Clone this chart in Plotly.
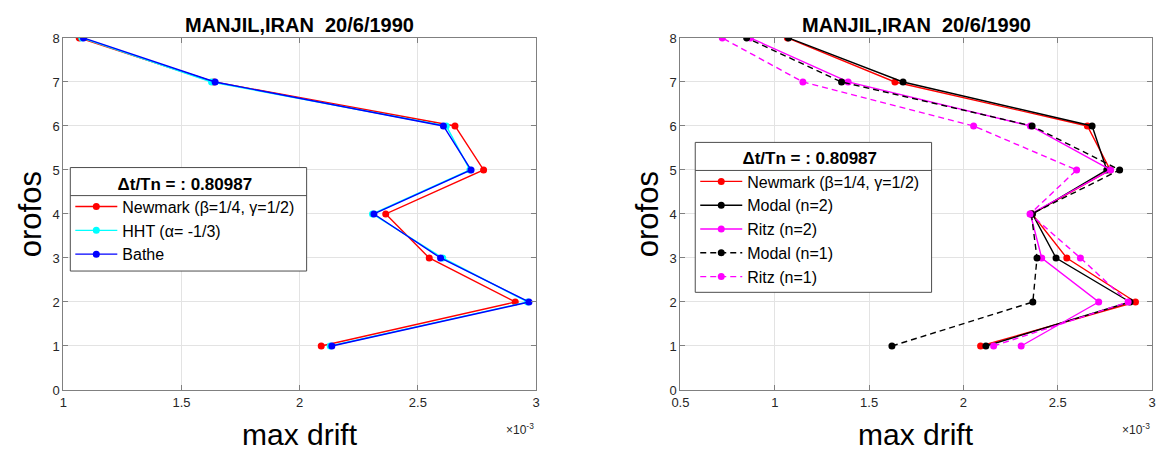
import plotly.graph_objects as go

# Story levels (orofos)
floors = [1, 2, 3, 4, 5, 6, 7, 8]

# ---- Left panel (max drift, x 10^-3) ----
newmark = [2.091, 2.912, 2.548, 2.364, 2.778, 2.657, 1.637, 1.067]
hht = [2.129, 2.964, 2.605, 2.308, 2.720, 2.620, 1.627, 1.078]
bathe = [2.136, 2.970, 2.596, 2.314, 2.725, 2.608, 1.642, 1.085]

# ---- Right panel (max drift, x 10^-3) ----
modal_n2 = [2.119, 2.883, 2.491, 2.366, 2.760, 2.682, 1.680, 1.073]
ritz_n2 = [2.306, 2.717, 2.415, 2.355, 2.780, 2.355, 1.389, 0.871]
modal_n1 = [1.621, 2.368, 2.390, 2.360, 2.828, 2.364, 1.354, 0.851]
ritz_n1 = [2.160, 2.873, 2.620, 2.353, 2.600, 2.054, 1.149, 0.722]

title_text = "MANJIL,IRAN  20/6/1990"
legend_title = "Δt/Tn = : 0.80987"
x_ticks_left = [1, 1.5, 2, 2.5, 3]
x_ticks_right = [0.5, 1, 1.5, 2, 2.5, 3]
y_ticks = [0, 1, 2, 3, 4, 5, 6, 7, 8]

FONT = "Liberation Sans, Arial, sans-serif"
W, H = 1164, 457

def px_x(p):
    return p / W

def px_y(p):
    return 1 - p / H

fig = go.Figure()

left_series = [
    ("Newmark (β=1/4, γ=1/2)", newmark, "#ff0000", "solid"),
    ("HHT (α= -1/3)", hht, "#00ffff", "solid"),
    ("Bathe", bathe, "#0000ff", "solid"),
]
for name, vals, col, dash in left_series:
    fig.add_trace(go.Scatter(
        x=vals, y=floors, mode="lines+markers", name=name,
        line=dict(color=col, width=1.4, dash=dash),
        marker=dict(color=col, size=7, symbol="circle"),
        xaxis="x", yaxis="y", legend="legend",
    ))

right_series = [
    ("Newmark (β=1/4, γ=1/2)", newmark, "#ff0000", "solid"),
    ("Modal (n=2)", modal_n2, "#000000", "solid"),
    ("Ritz (n=2)", ritz_n2, "#ff00ff", "solid"),
    ("Modal (n=1)", modal_n1, "#000000", "6px,4px"),
    ("Ritz (n=1)", ritz_n1, "#ff00ff", "6px,4px"),
]
for name, vals, col, dash in right_series:
    fig.add_trace(go.Scatter(
        x=vals, y=floors, mode="lines+markers", name=name,
        line=dict(color=col, width=1.4, dash=dash),
        marker=dict(color=col, size=7, symbol="circle"),
        xaxis="x2", yaxis="y2", legend="legend2",
    ))

axis_common = dict(
    showline=True, linecolor="#808080", linewidth=1, mirror="ticks",
    ticks="inside", ticklen=5, tickcolor="#808080", tickwidth=1,
    showgrid=True, gridcolor="#e3e3e3", gridwidth=1, zeroline=False,
    tickfont=dict(family=FONT, size=13, color="#262626"),
)

ydom = [px_y(396), px_y(32)]

LEG_FONT = 16
legend_common = dict(
    xanchor="left", yanchor="top",
    bgcolor="rgba(0,0,0,0)", borderwidth=0,
    font=dict(family=FONT, size=LEG_FONT, color="#000000"),
    title=dict(text="<b>" + legend_title + "</b>", side="top center",
               font=dict(family=FONT, size=17, color="#000000")),
    tracegroupgap=0, itemwidth=42,
)

# legend box: left px, top px, width px, height px
LEG1 = (62, 166, 239, 107)
LEG2 = (694, 140, 239, 155)

fig.update_layout(
    width=W, height=H,
    margin=dict(l=0, r=0, t=0, b=0),
    paper_bgcolor="white", plot_bgcolor="white",
    font=dict(family=FONT, color="#000000"),
    xaxis=dict(domain=[px_x(55), px_x(533)], range=[1, 3], tickvals=x_ticks_left,
               ticktext=[f"{v:g}" for v in x_ticks_left], anchor="y", **axis_common),
    yaxis=dict(domain=ydom, range=[0, 8], tickvals=y_ticks, anchor="x", **axis_common),
    xaxis2=dict(domain=[px_x(679), px_x(1156)], range=[0.5, 3], tickvals=x_ticks_right,
                ticktext=[f"{v:g}" for v in x_ticks_right], anchor="y2", **axis_common),
    yaxis2=dict(domain=ydom, range=[0, 8], tickvals=y_ticks, anchor="x2", **axis_common),
    legend=dict(x=px_x(LEG1[0]), y=px_y(LEG1[1]), **legend_common),
    legend2=dict(x=px_x(LEG2[0]), y=px_y(LEG2[1]), **legend_common),
    showlegend=True,
)

annots = []
for cx in [(55 + 533) / 2, (679 + 1156) / 2]:
    annots.append(dict(text="<b>" + title_text + "</b>", x=px_x(cx), y=px_y(19),
                       xref="paper", yref="paper", xanchor="center", yanchor="middle",
                       showarrow=False, font=dict(family=FONT, size=20, color="#000000")))
for cx in [(55 + 533) / 2, (679 + 1156) / 2]:
    annots.append(dict(text="max drift", x=px_x(cx), y=px_y(442),
                       xref="paper", yref="paper", xanchor="center", yanchor="middle",
                       showarrow=False, font=dict(family=FONT, size=30, color="#000000")))
for cx in [22.5, 646.5]:
    annots.append(dict(text="orofos", x=px_x(cx), y=px_y(214), textangle=-90,
                       xref="paper", yref="paper", xanchor="center", yanchor="middle",
                       showarrow=False, font=dict(family=FONT, size=31, color="#000000")))
for rx in [533, 1156]:
    annots.append(dict(text="×10<sup>-3</sup>", x=px_x(rx), y=px_y(436),
                       xref="paper", yref="paper", xanchor="right", yanchor="middle",
                       showarrow=False, font=dict(family=FONT, size=12, color="#262626")))
fig.update_layout(annotations=annots)

# legend frame + separator under the legend title (legend itself is transparent)
shapes = []
for lx, ty, lw, lh in [LEG1, LEG2]:
    shapes.append(dict(type="rect", xref="paper", yref="paper",
                       x0=px_x(lx), x1=px_x(lx + lw), y0=px_y(ty), y1=px_y(ty + lh),
                       fillcolor="white", line=dict(color="#4d4d4d", width=1), layer="above"))
    sep = ty + 29
    shapes.append(dict(type="line", xref="paper", yref="paper",
                       x0=px_x(lx), x1=px_x(lx + lw), y0=px_y(sep), y1=px_y(sep),
                       line=dict(color="#4d4d4d", width=1), layer="above"))
fig.update_layout(shapes=shapes)

fig.write_html("out.html")
